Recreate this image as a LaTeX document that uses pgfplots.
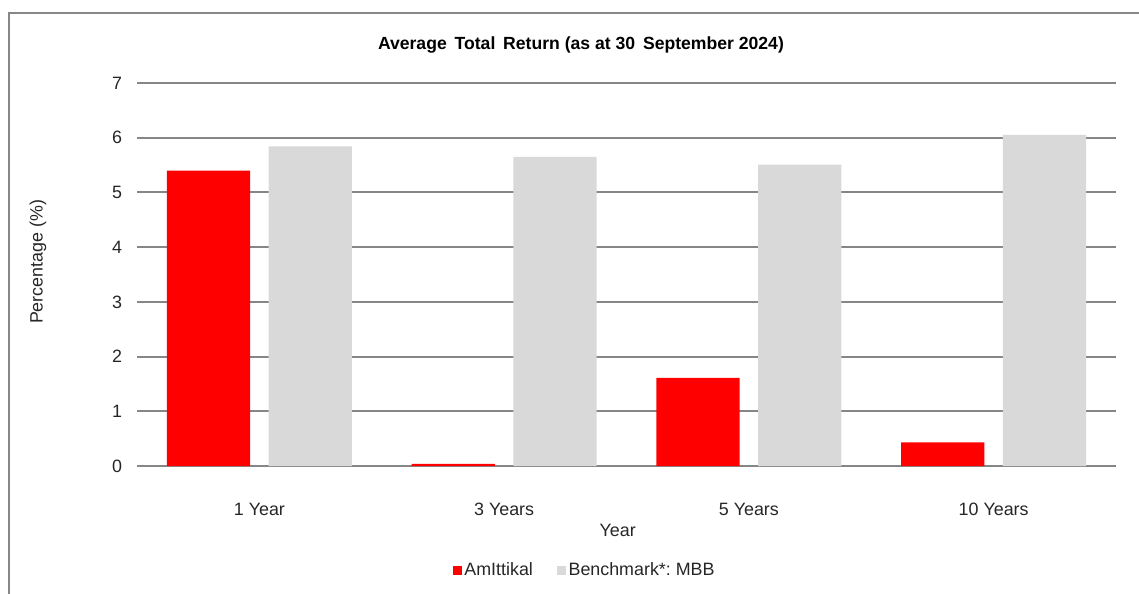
\documentclass[border=0pt]{standalone}
\usepackage{fontspec}
\setmainfont{Liberation Sans}
\usepackage{pgfplots}
\pgfplotsset{compat=1.18}
\definecolor{amred}{HTML}{FF0000}
\definecolor{bmgray}{HTML}{D9D9D9}
\definecolor{gridgray}{HTML}{868686}
\definecolor{framegray}{HTML}{878787}
\frenchspacing
\begin{document}
\fontsize{13.4pt}{16pt}\selectfont
\begin{tikzpicture}[x=0.75pt,y=0.75pt]
\useasboundingbox (0,0) rectangle (1139,593);
\draw[framegray, line width=1.5pt] (9,-30) -- (9,580) -- (1170,580);
\begin{axis}[
  at={(102.75pt,95.25pt)}, anchor=south west,
  scale only axis, width=734.25pt, height=287.25pt,
  ybar, bar width=0.34,
  xmin=-0.5, xmax=3.5, ymin=0, ymax=7,
  xtick=data, xticklabels={1 Year,3 Years,5 Years,10 Years},
  ytick={0,1,...,7},
  ymajorgrids, grid style={gridgray, line width=1.4pt},
  axis line style={draw=none},
  major tick length=0pt,
  /pgf/number format/assume math mode=true,
  tick label style={font=\fontsize{13.4pt}{16pt}\selectfont, text=black!85},
  yticklabel style={xshift=-6.5pt},
  xticklabel style={yshift=-23pt},
  xlabel={Year},
  xlabel style={at={(axis description cs:0.491,-0.167)}, anchor=center, font=\fontsize{13.4pt}{16pt}\selectfont, text=black!85},
  ylabel={Percentage (\%)},
  ylabel style={at={(axis description cs:-0.101,0.533)}, anchor=center, rotate=0, font=\fontsize{13.4pt}{16pt}\selectfont, text=black!85},
  title={\textbf{Average\, Total\, Return (as at 30\, September 2024)}},
  title style={at={(axis description cs:0.4535,1.078)}, anchor=center, font=\fontsize{13.2pt}{15pt}\selectfont},
  legend style={at={(axis description cs:0.4576,-0.2715)}, anchor=center, draw=none, fill=none,
    legend columns=2, font=\fontsize{13.4pt}{16pt}\selectfont, text=black!85,
    /tikz/every even column/.append style={column sep=16pt},
    legend cell align=left, inner sep=0pt},
  legend image code/.code={\fill[#1] (0pt,-3.4pt) rectangle (6.75pt,3.35pt);},
]
\addplot[fill=amred, draw=none, bar shift=-0.208] coordinates {(0,5.40) (1,0.04) (2,1.61) (3,0.43)};
\addplot[fill=bmgray, draw=none, bar shift=0.208] coordinates {(0,5.84) (1,5.65) (2,5.51) (3,6.05)};
\legend{AmIttikal, Benchmark*: MBB}
\end{axis}
\end{tikzpicture}
\end{document}
